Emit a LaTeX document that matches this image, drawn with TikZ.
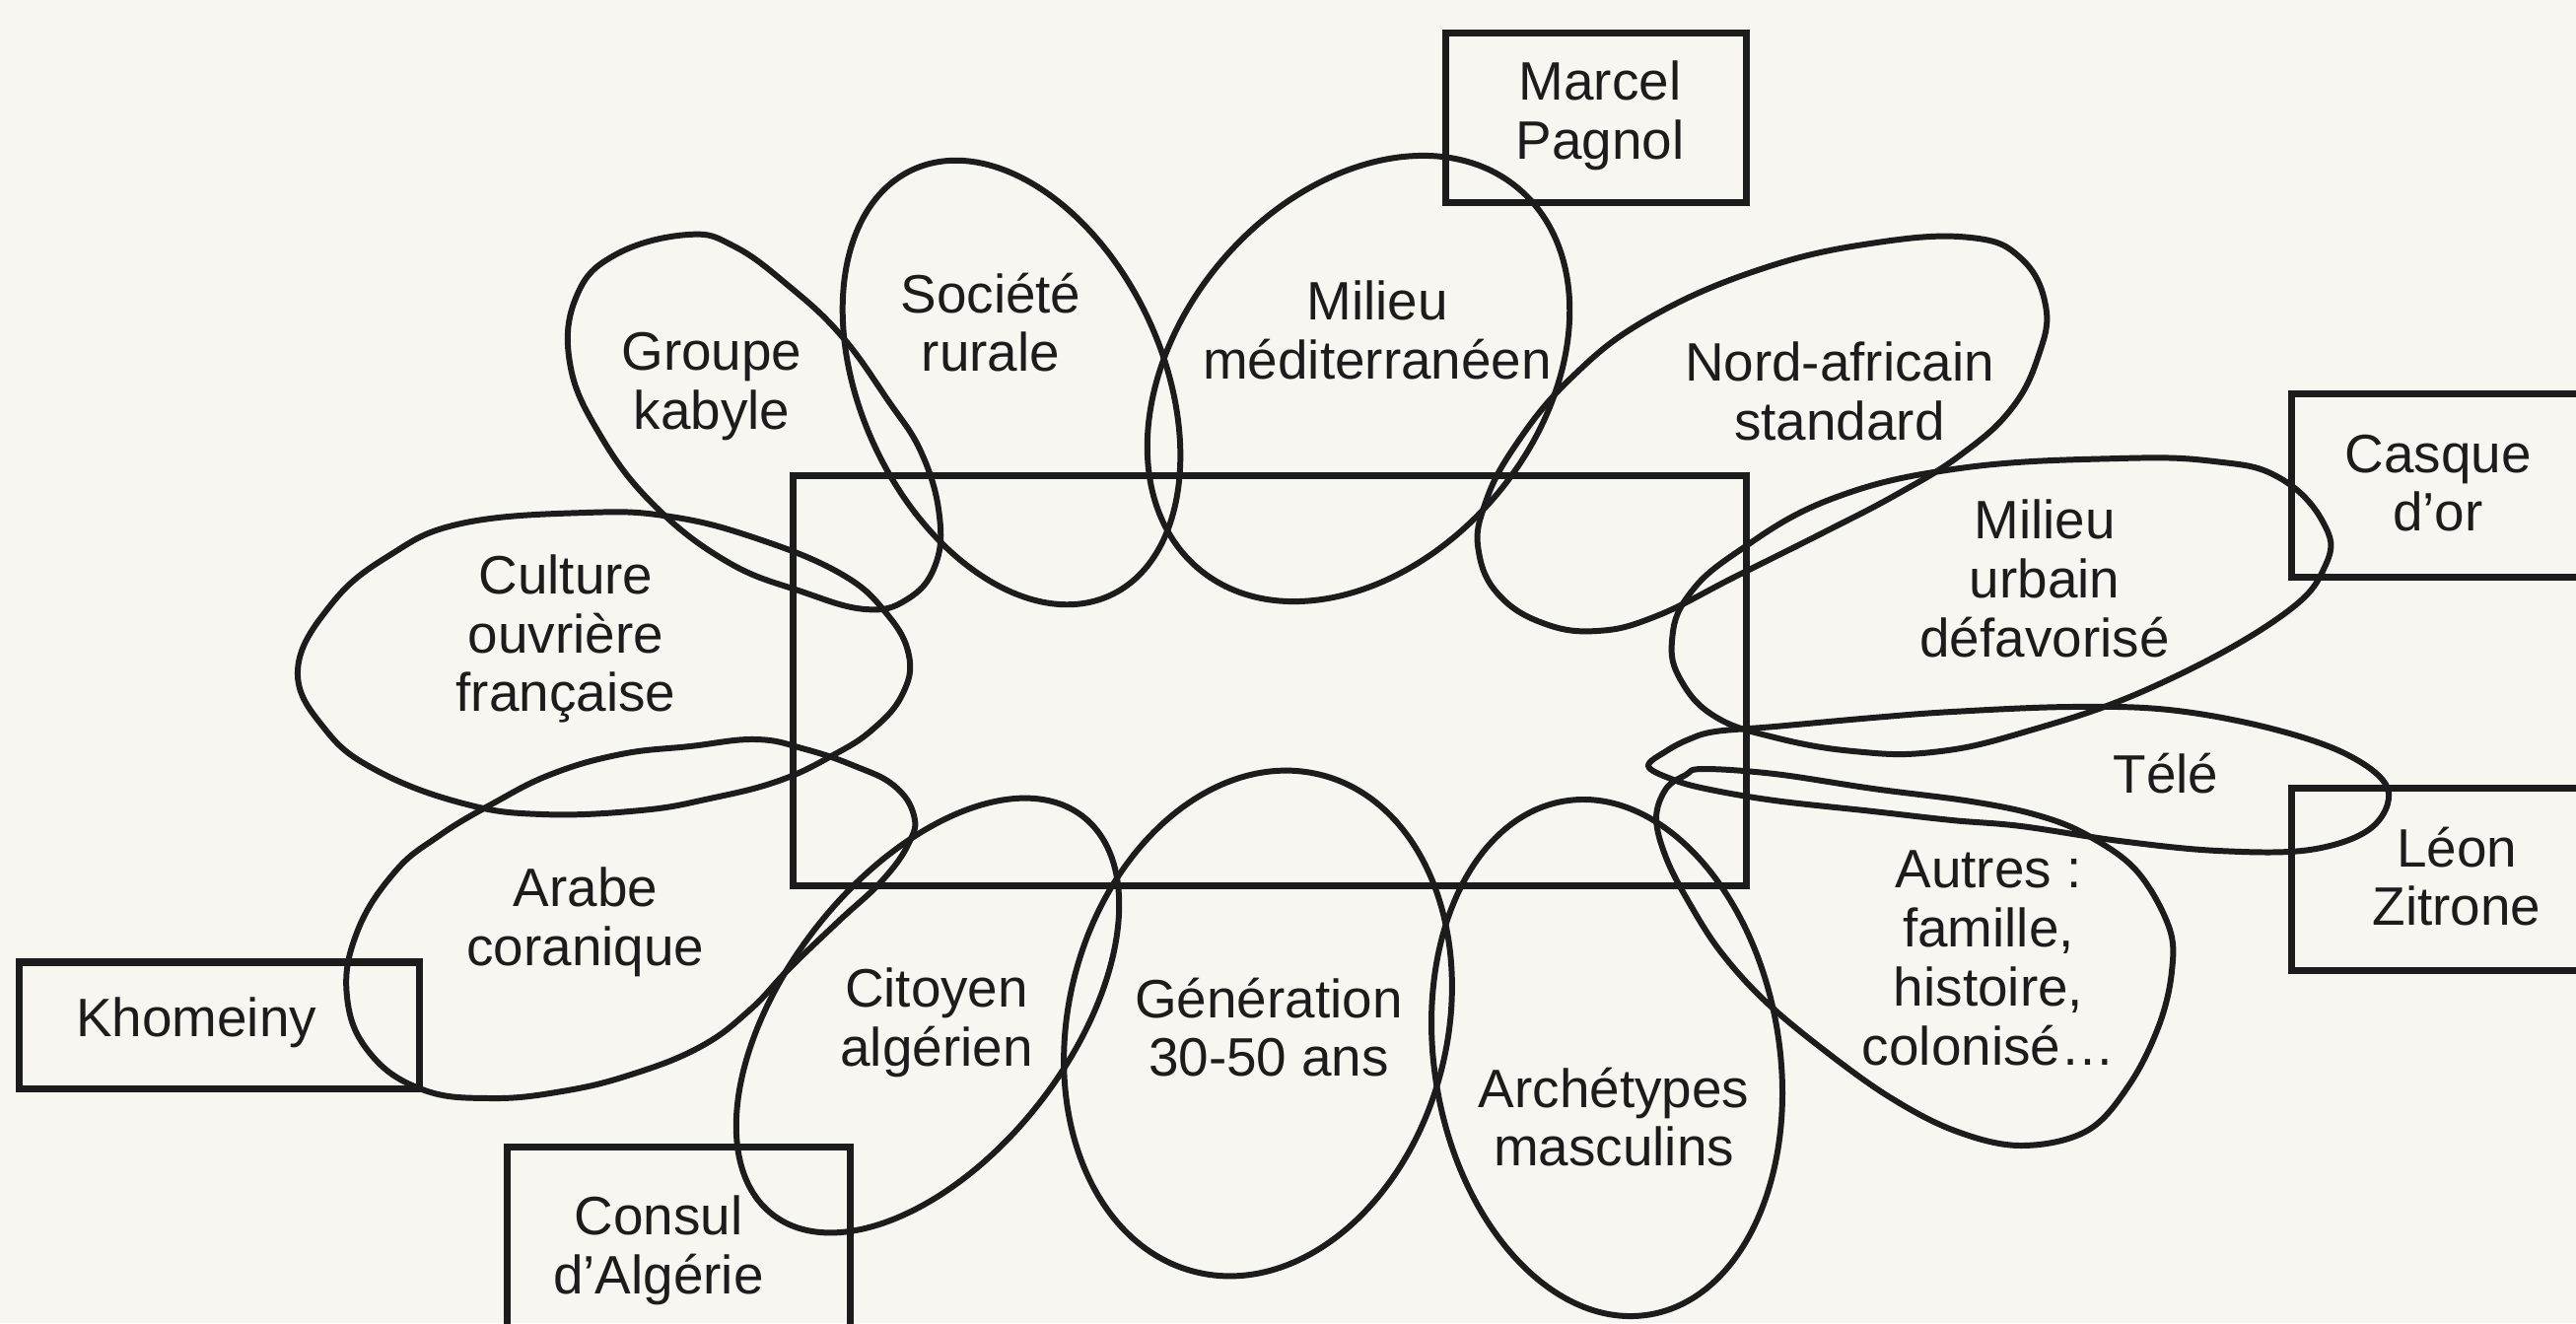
\documentclass[tikz,border=0pt]{standalone}
\usepackage{fontspec}
\setmainfont{Liberation Sans}
\definecolor{ink}{RGB}{28,28,28}
\definecolor{paper}{RGB}{248,246,240}
\begin{document}
\begin{tikzpicture}[x=0.01cm,y=-0.01cm,
  blob/.style={draw=ink, line width=1.7pt, line join=round},
  boxst/.style={draw=ink, line width=2pt, rectangle, inner sep=0pt, outer sep=0pt},
  lbl/.style={font=\fontsize{15.6}{17}\selectfont, align=center, inner sep=0pt, text=ink}]
\path[use as bounding box, fill=paper] (0,0) rectangle (2613,1342);
\clip (0,0) rectangle (2613,1342);

% central rectangle and boxes
\node[boxst, minimum width=9.66cm, minimum height=4.15cm] (center) at (1288,690.5) {};
\node[boxst, minimum width=3.04cm, minimum height=1.71cm] (pagnolbox) at (1619,119.5) {};
\node[boxst, minimum width=3.35cm, minimum height=1.85cm] (casquebox) at (2492.5,492.5) {};
\node[boxst, minimum width=3.35cm, minimum height=1.84cm] (leonbox) at (2492.5,892) {};
\node[boxst, minimum width=4.05cm, minimum height=1.28cm] (khomeinybox) at (222.5,1040) {};
\node[boxst, minimum width=3.47cm, minimum height=2.16cm] (consulbox) at (688.5,1272) {};

% blobs
% Groupe kabyle
\draw[blob] plot[smooth cycle, tension=0.7] coordinates {(698,238) (745,250) (800,290) (853,340) (900,405) (935,460) (953,524) (948,575) (920,608) (878,618) (813,600) (738,570) (663,512) (608,440) (578,368) (585,300) (625,258)};
% Societe rurale
\draw[blob, rotate around={-65:(1026,388)}] (1026,388) ellipse [x radius=238, y radius=153];
% Milieu mediterraneen
\draw[blob, rotate around={50:(1378,384)}] (1378,384) ellipse [x radius=252, y radius=183];
% Nord-africain standard
\draw[blob] plot[smooth cycle, tension=0.7] coordinates {(1999,241) (2050,262) (2075,310) (2068,360) (2040,415) (1988,462) (1923,502) (1850,540) (1760,585) (1680,625) (1620,640) (1565,632) (1520,603) (1500,560) (1505,515) (1535,455) (1594,383) (1674,322) (1789,272) (1904,246)};
% Milieu urbain defavorise
\draw[blob] plot[smooth cycle, tension=0.7] coordinates {(2149,465) (2246,468) (2311,484) (2356,529) (2359,573) (2311,627) (2181,698) (2052,743) (1960,763) (1880,762) (1800,748) (1740,727) (1705,690) (1696,650) (1712,605) (1762,560) (1858,506) (1988,475)};
% Tele
\draw[blob] plot[smooth cycle, tension=0.6] coordinates {(1672,777) (1690,762) (1713,750) (1740,742) (1800,737) (1900,728) (1980,722) (2100,717) (2200,720) (2300,738) (2380,765) (2422,800) (2405,840) (2343,862) (2250,863) (2150,853) (2050,838) (1980,832) (1900,823) (1800,812) (1730,800) (1695,790)};
% Autres
\draw[blob] plot[smooth cycle, tension=0.6] coordinates {(1680,830) (1690,800) (1710,786) (1727,780) (1800,785) (1900,800) (2000,813) (2067,827) (2117,847) (2167,883) (2200,940) (2203,985) (2190,1040) (2160,1100) (2117,1147) (2050,1162) (1983,1147) (1917,1113) (1850,1065) (1790,1015) (1745,965) (1713,915) (1690,870)};
% Archetypes masculins
\draw[blob, rotate around={-80.6:(1630,1073)}] (1630,1073) ellipse [x radius=264, y radius=175];
% Generation 30-50 ans
\draw[blob, rotate around={75.7:(1276,1038)}] (1276,1038) ellipse [x radius=260, y radius=192];
% Citoyen algerien
\draw[blob, rotate around={52:(941,1030)}] (941,1030) ellipse [x radius=256, y radius=144];
% Arabe coranique
\draw[blob] plot[smooth cycle, tension=0.7] coordinates {(700,757) (767,750) (817,760) (867,777) (907,797) (927,827) (922,855) (895,893) (850,935) (800,983) (760,1025) (710,1062) (640,1090) (570,1107) (497,1114) (428,1105) (375,1068) (352,1011) (362,946) (400,885) (445,848) (500,815) (560,785) (630,765)};
% Culture ouvriere francaise
\draw[blob] plot[smooth cycle, tension=0.7] coordinates {(302,680) (336,613) (394,564) (468,531) (594,520) (680,524) (767,546) (853,582) (899,622) (922,665) (915,705) (885,740) (845,766) (790,792) (720,810) (650,822) (550,826) (470,815) (383,782) (330,740)};

% labels
\node[lbl] (kabyle) at (722,392) {Groupe\\kabyle};
\node[lbl] (rurale) at (1005,327) {Société\\rurale};
\node[lbl] (medit) at (1397,335) {Milieu\\méditerranéen};
\node[lbl] (nordaf) at (1866,397) {Nord-africain\\standard};
\node[lbl] (urbain) at (2074,587) {Milieu\\urbain\\défavorisé};
\node[lbl] (tele) at (2197,785) {Télé};
\node[lbl] (autres) at (2017,972) {Autres~:\\famille,\\histoire,\\colonisé\ldots};
\node[lbl] (archetypes) at (1637,1133) {Archétypes\\masculins};
\node[lbl] (generation) at (1287,1042) {Génération\\30-50 ans};
\node[lbl] (citoyen) at (950,1037) {Citoyen\\algérien};
\node[lbl] (arabe) at (594,935) {Arabe\\coranique};
\node[lbl] (culture) at (574,648) {Culture\\ouvrière\\française};
\node[lbl] (khomeiny) at (199,1037) {Khomeiny};
\node[lbl] (consul) at (668,1268) {Consul\\d'Algérie};
\node[lbl] (pagnol) at (1623,117) {Marcel\\Pagnol};
\node[lbl] (casque) at (2473,490) {Casque\\d'or};
\node[lbl] (leon) at (2492,889) {Léon\\Zitrone};
\end{tikzpicture}
\end{document}
